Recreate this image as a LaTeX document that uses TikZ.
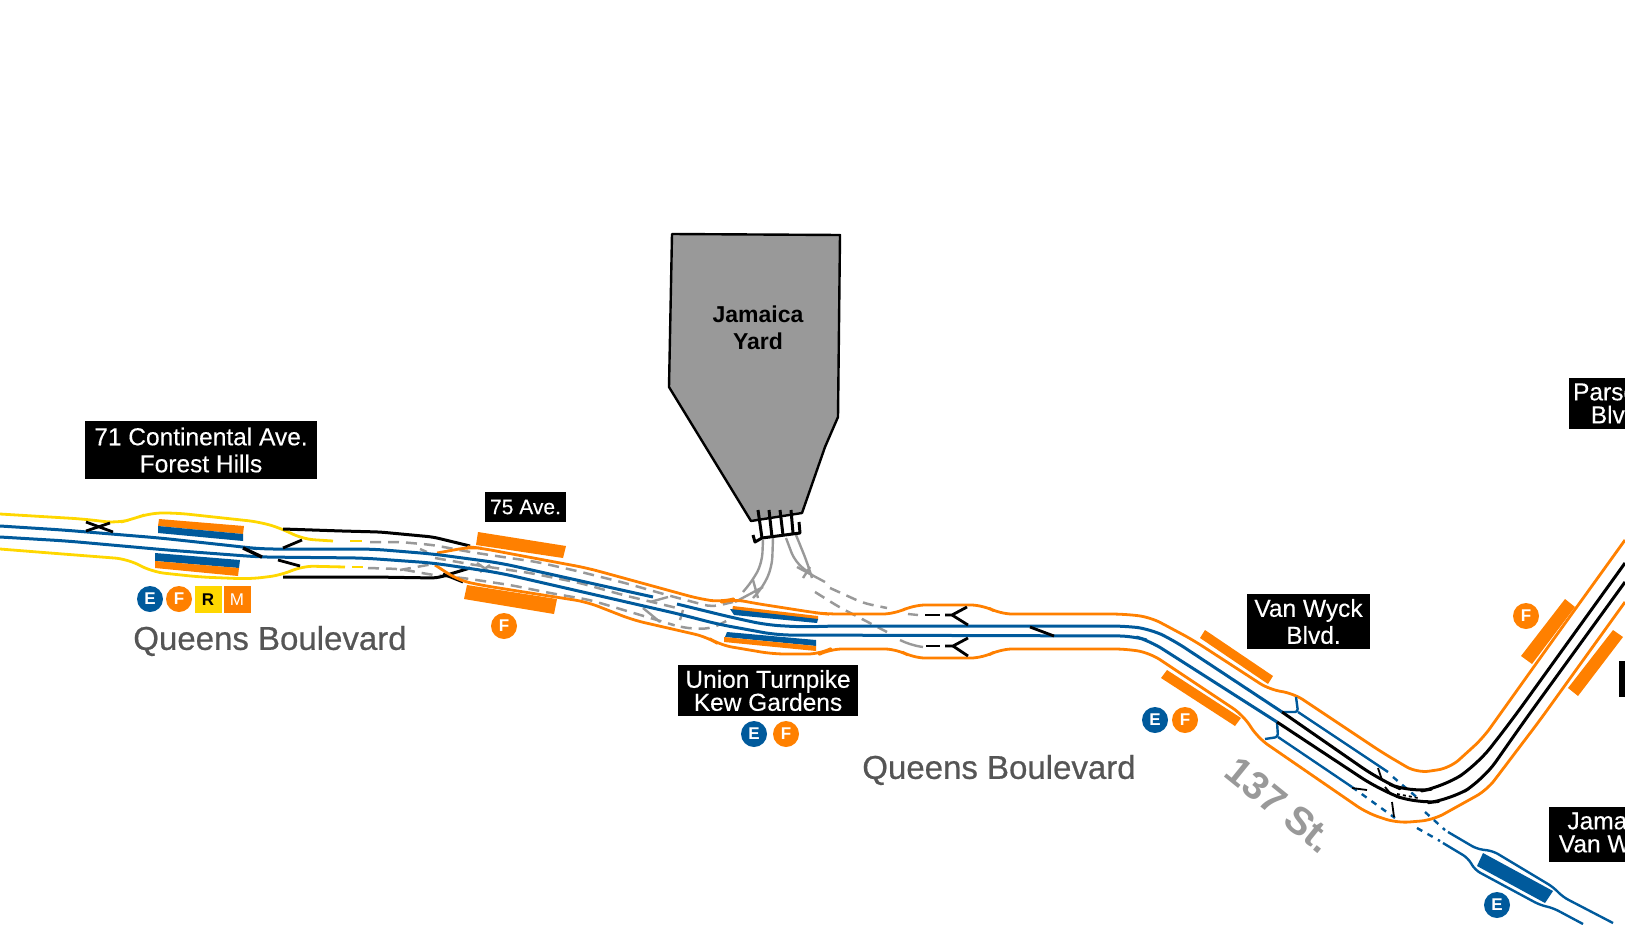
\documentclass[tikz,border=0pt]{standalone}
\usepackage{fontspec}
\setmainfont{Liberation Sans}
\newfontfamily\heavyfont[FakeBold=0.6]{Liberation Sans}
\newfontfamily\medfont[FakeBold=0.25]{Liberation Sans}
\definecolor{nycblue}{HTML}{005A9C}
\definecolor{nycorange}{HTML}{FF8000}
\definecolor{nycyellow}{HTML}{FFD700}
\definecolor{nycgray}{HTML}{999999}
\definecolor{streetgray}{HTML}{555555}
\tikzset{
  wall/.style={line width=2.8pt,rounded corners=12pt,line join=round},
  oline/.style={wall,draw=nycorange},
  yline/.style={wall,draw=nycyellow},
  track/.style={line width=3pt,rounded corners=14pt,line join=round,draw=nycblue},
  blacktrack/.style={line width=3pt,rounded corners=14pt,line join=round,draw=black},
  sw/.style={line width=2.8pt,draw=black},
  thinsw/.style={line width=1.8pt,draw=black},
  gdash/.style={line width=2.5pt,draw=nycgray,dash pattern=on 11pt off 7pt,rounded corners=8pt},
  gsolid/.style={line width=2.4pt,draw=nycgray,rounded corners=10pt},
  bdash/.style={line width=2.4pt,draw=nycblue,dash pattern=on 6pt off 6pt},
  plat/.style={fill=nycorange,draw=none},
  platb/.style={fill=nycblue,draw=none},
  label/.style={fill=black,text=white,inner sep=0pt,align=center,font=\medfont\fontsize{24.5}{23}\selectfont},
  bullet/.style={circle,fill=#1,text=white,inner sep=0pt,minimum size=26pt,font=\fontsize{17}{17}\selectfont\bfseries},
  sqbullet/.style={fill=#1,inner sep=0pt,minimum width=27pt,minimum height=27pt,font=\fontsize{17}{17}\selectfont},
  street/.style={text=streetgray,inner sep=0pt,font=\heavyfont\fontsize{33}{33}\selectfont},
}
\begin{document}
\begin{tikzpicture}[x=1pt,y=-1pt]
\useasboundingbox (0,0) rectangle (1625,924);
\clip (0,0) rectangle (1625,924);
% ---- gray yard leads and dashed local tracks
\draw[gdash] (370,542) -- (400,542) -- (433,545) -- (470,552) -- (503,557) -- (537,562) -- (577,571) -- (625,583) -- (667,595) -- (712,607) -- (733,602);
\draw[gdash] (368,568) -- (400,569) -- (433,575) -- (463,578) -- (510,585) -- (550,593) -- (590,600) -- (627,611) -- (667,623) -- (680,627) -- (697,629) -- (713,628) -- (730,619);
\draw[gdash] (400,570) -- (433,564);
\draw[gdash] (435,558) -- (475,565) -- (530,573) -- (580,583) -- (623,595) -- (677,608);
\draw[gsolid] (477,563) -- (490,572);
\draw[gsolid] (480,572) -- (490,565);
\draw[gsolid] (420,549) -- (427,552);
\draw[gsolid] (650,602) -- (668,597);
\draw[gsolid] (643,608) -- (660,622);
\draw[gsolid] (680,620) -- (683,610);
\draw[gsolid] (763,540) -- (762,563) -- (753,580) -- (743,592);
\draw[gsolid] (773,538) -- (772,567) -- (763,587) -- (753,598);
\draw[gsolid] (753,580) -- (758,598);
\draw[gsolid] (763,587) -- (735,602);
\draw[gsolid] (786,538) -- (795,562) -- (812,575);
\draw[gsolid] (796,535) -- (807,562) -- (812,578);
\draw[gsolid] (797,567) -- (825,582);
\draw[gsolid] (810,567) -- (803,578);
\draw[gdash] (830,588) -- (863,603) -- (887,608);
\draw[gdash] (815,592) -- (839,607) -- (887,632);
\draw[gsolid] (908,614) -- (918,615);
\draw[gsolid] (900,640) -- (910,645) -- (923,647);
% ---- yellow walls
\draw[yline] (0,514) -- (83,519) -- (117,523) -- (133,519) -- (150,513) -- (177,513) -- (260,522) -- (283,529) -- (302,539) -- (333,541);
\draw[line width=2.8pt,nycyellow] (350,541) -- (362,541);
\draw[yline] (0,549) -- (50,553) -- (127,559) -- (153,572) -- (200,577) -- (250,579) -- (282,575) -- (302,566) -- (345,567);
\draw[line width=2.8pt,nycyellow] (352,567) -- (363,567);
% ---- black walls west of 75 Ave.
\draw[blacktrack,rounded corners=6pt] (283,529) -- (342,531) -- (380,532) -- (433,537) -- (470,546);
\draw[blacktrack,rounded corners=6pt] (283,577) -- (373,577) -- (437,578) -- (470,568);
\draw[sw] (443,574) -- (463,582);
% ---- orange walls
\draw[oline] (437,553) -- (470,547) -- (480,548) -- (587,568) -- (700,599) -- (722,602) -- (733,599) -- (753,603) -- (817,613) -- (827,614) -- (895,614) -- (913,605) -- (983,605) -- (1000,614) -- (1123,614) -- (1150,617) -- (1193,640) -- (1270,690) -- (1293,693) -- (1383,753) -- (1417,773) -- (1450,768) -- (1483,738) -- (1553,640) -- (1625,540);
\draw[oline] (435,565) -- (458,580) -- (480,585) -- (587,602) -- (633,620) -- (707,637) -- (720,645) -- (773,654) -- (820,654) -- (830,649) -- (897,649) -- (913,658) -- (983,658) -- (1000,649) -- (1127,649) -- (1150,653) -- (1243,715) -- (1258,738) -- (1367,813) -- (1397,823) -- (1433,820) -- (1487,790) -- (1540,720) -- (1625,602);
% ---- blue express tracks
\draw[track] (0,526) -- (63,530) -- (160,538) -- (243,547) -- (260,549) -- (372,549) -- (433,554) -- (500,563) -- (653,597);
\draw[track] (677,604) -- (730,617) -- (767,625) -- (803,627) -- (833,626) -- (1125,626) -- (1150,629) -- (1173,640) -- (1282,712);
\draw[track] (0,537) -- (67,541) -- (167,550) -- (260,557) -- (363,558) -- (433,563) -- (500,573) -- (683,615) -- (717,624) -- (777,635) -- (1133,636) -- (1150,641) -- (1277,722);
% ---- blue local tracks at the junction
\draw[track,line width=2.4pt,rounded corners=3pt] (1282,712) -- (1298,712) -- (1296,697);
\draw[track,line width=2.4pt,rounded corners=3pt] (1298,712) -- (1388,772);
\draw[bdash] (1393,777) -- (1420,800);
\draw[bdash] (1425,812) -- (1445,830);
\draw[track,line width=2.4pt,rounded corners=6pt] (1448,832) -- (1477,849) -- (1493,851) -- (1553,887) -- (1563,897) -- (1613,923);
\draw[track,line width=2.4pt,rounded corners=3pt] (1277,722) -- (1278,737) -- (1265,739);
\draw[track,line width=2.4pt,rounded corners=3pt] (1278,737) -- (1352,787);
\draw[bdash] (1352,787) -- (1395,818);
\draw[bdash] (1417,828) -- (1440,841);
\draw[track,line width=2.4pt,rounded corners=6pt] (1443,843) -- (1468,858) -- (1475,870) -- (1540,905) -- (1553,908) -- (1583,924);
% ---- black tracks on the curve
\draw[blacktrack,rounded corners=22pt] (1282,712) -- (1380,780) -- (1410,793) -- (1443,787) -- (1477,765) -- (1512,720) -- (1625,563);
\draw[blacktrack,rounded corners=22pt] (1277,722) -- (1380,790) -- (1417,804) -- (1450,800) -- (1483,780) -- (1525,720) -- (1625,582);
\draw[thinsw] (1378,768) -- (1382,780);
\draw[thinsw] (1352,788) -- (1367,790);
\draw[thinsw] (1385,787) -- (1390,793);
\draw[thinsw,dashed] (1397,794) -- (1418,798);
\draw[thinsw] (1392,802) -- (1394,817);
% ---- switches
\draw[sw] (86,522) -- (113,532);
\draw[sw] (86,531) -- (110,523);
\draw[sw] (283,548) -- (302,540);
\draw[sw,line width=3.4pt] (243,548) -- (262,557);
\draw[sw] (278,560) -- (300,566);
\draw[sw] (1030,627) -- (1054,636);
\draw[sw] (925,615) -- (940,615);
\draw[sw,line cap=butt] (945,615) -- (952,615) -- (967,607);
\draw[sw] (952,615) -- (968,625);
\draw[sw] (926,646) -- (940,646);
\draw[sw] (945,646) -- (953,646) -- (968,638);
\draw[sw] (953,646) -- (968,656);
% ---- stations
\fill[plat] (159,519) -- (244,526) -- (243,534) -- (158,526) -- cycle;
\fill[platb] (158,526) -- (243,534) -- (243,541) -- (158,533) -- cycle;
\fill[platb] (155,553) -- (240,560) -- (239,568) -- (155,561) -- cycle;
\fill[plat] (155,561) -- (239,568) -- (238,576) -- (155,568) -- cycle;
\fill[plat] (478,532) -- (566,546) -- (563,558) -- (476,545) -- cycle;
\fill[plat] (467,585) -- (557,599) -- (554,614) -- (464,599) -- cycle;
\fill[plat] (733,606) -- (818,616) -- (818,620) -- (732,611) -- cycle;
\fill[platb] (730,609) -- (818,619) -- (817,623) -- (734,615) -- cycle;
\fill[platb] (727,632) -- (816,640) -- (816,646) -- (725,637) -- cycle;
\fill[plat] (724,637) -- (816,646) -- (816,651) -- (724,642) -- cycle;
\fill[plat] (1205,630) -- (1273,676) -- (1268,684) -- (1200,638) -- cycle;
\fill[plat] (1167,670) -- (1241,718) -- (1235,726) -- (1161,678) -- cycle;
\fill[plat] (1565,599) -- (1575,607) -- (1532,664) -- (1521,656) -- cycle;
\fill[plat] (1613,630) -- (1623,637) -- (1578,696) -- (1568,688) -- cycle;
\fill[platb] (1483,853) -- (1553,891) -- (1545,903) -- (1477,866) -- cycle;
% ---- Jamaica Yard
\draw[fill=nycgray,line width=2.4pt,draw=black,line join=round] (672,234) -- (840,235) -- (838,417) -- (825,447) -- (802,513) -- (751,521) -- (669,387) -- cycle;
\draw[line width=3pt] (758,510) -- (762,538);
\draw[line width=3pt] (769,510) -- (772,537);
\draw[line width=3pt] (780,510) -- (783,535);
\draw[line width=3pt] (791,510) -- (793,533);
\draw[line width=3pt,line join=round] (753,535) -- (755,542) -- (762,538) -- (800,533) -- (799,522);
\node[font=\fontsize{23}{27}\selectfont\bfseries,align=center,inner sep=0pt] (yard) at (758,328) {Jamaica\\Yard};
% ---- labels
\node[label,minimum width=232pt,minimum height=58pt,font=\medfont\fontsize{24.5}{27}\selectfont] (continental) at (201,450) {71 Continental Ave.\\Forest Hills};
\node[label,minimum width=81pt,minimum height=30pt,font=\medfont\fontsize{21}{21}\selectfont] (ave) at (525.5,507) {75 Ave.};
\node[label,minimum width=180pt,minimum height=51pt] (union) at (768,690.5) {Union Turnpike\\Kew Gardens};
\node[label,minimum width=123pt,minimum height=55pt,font=\medfont\fontsize{24.5}{27}\selectfont] (vanwyck) at (1308.5,621.5) {Van Wyck\\\hspace*{10pt}Blvd.};
\node[label,minimum width=98pt,minimum height=51pt] (parsons) at (1618,403.5) {Parsons\\Blvd.};
\node[fill=black,inner sep=0pt,minimum width=40pt,minimum height=36pt] (sutphin) at (1639,679) {};
\node[label,minimum width=128pt,minimum height=55pt] (jamaica) at (1613,834.5) {Jamaica\\Van Wyck};
% ---- bullets
\node[bullet=nycblue] (e1) at (150,599) {E};
\node[bullet=nycorange] (f1) at (179,599) {F};
\node[sqbullet=nycyellow,text=black] (r1) at (208,599.5) {\bfseries R};
\node[sqbullet=nycorange,text=white] (m1) at (237,599.5) {M};
\node[bullet=nycorange] (f2) at (504,626) {F};
\node[bullet=nycblue] (e3) at (754,734) {E};
\node[bullet=nycorange] (f3) at (786,734) {F};
\node[bullet=nycblue] (e4) at (1155,720) {E};
\node[bullet=nycorange] (f4) at (1185,720) {F};
\node[bullet=nycorange] (f5) at (1526,616) {F};
\node[bullet=nycblue] (e5) at (1497,905) {E};
% ---- streets
\node[street] (qb1) at (270,641) {Queens Boulevard};
\node[street] (qb2) at (999,770) {Queens Boulevard};
\node[text=nycgray,inner sep=0pt,rotate=-39,font=\fontsize{39}{39}\selectfont\bfseries] (st137) at (1280,805) {137 St.};
\end{tikzpicture}
\end{document}
